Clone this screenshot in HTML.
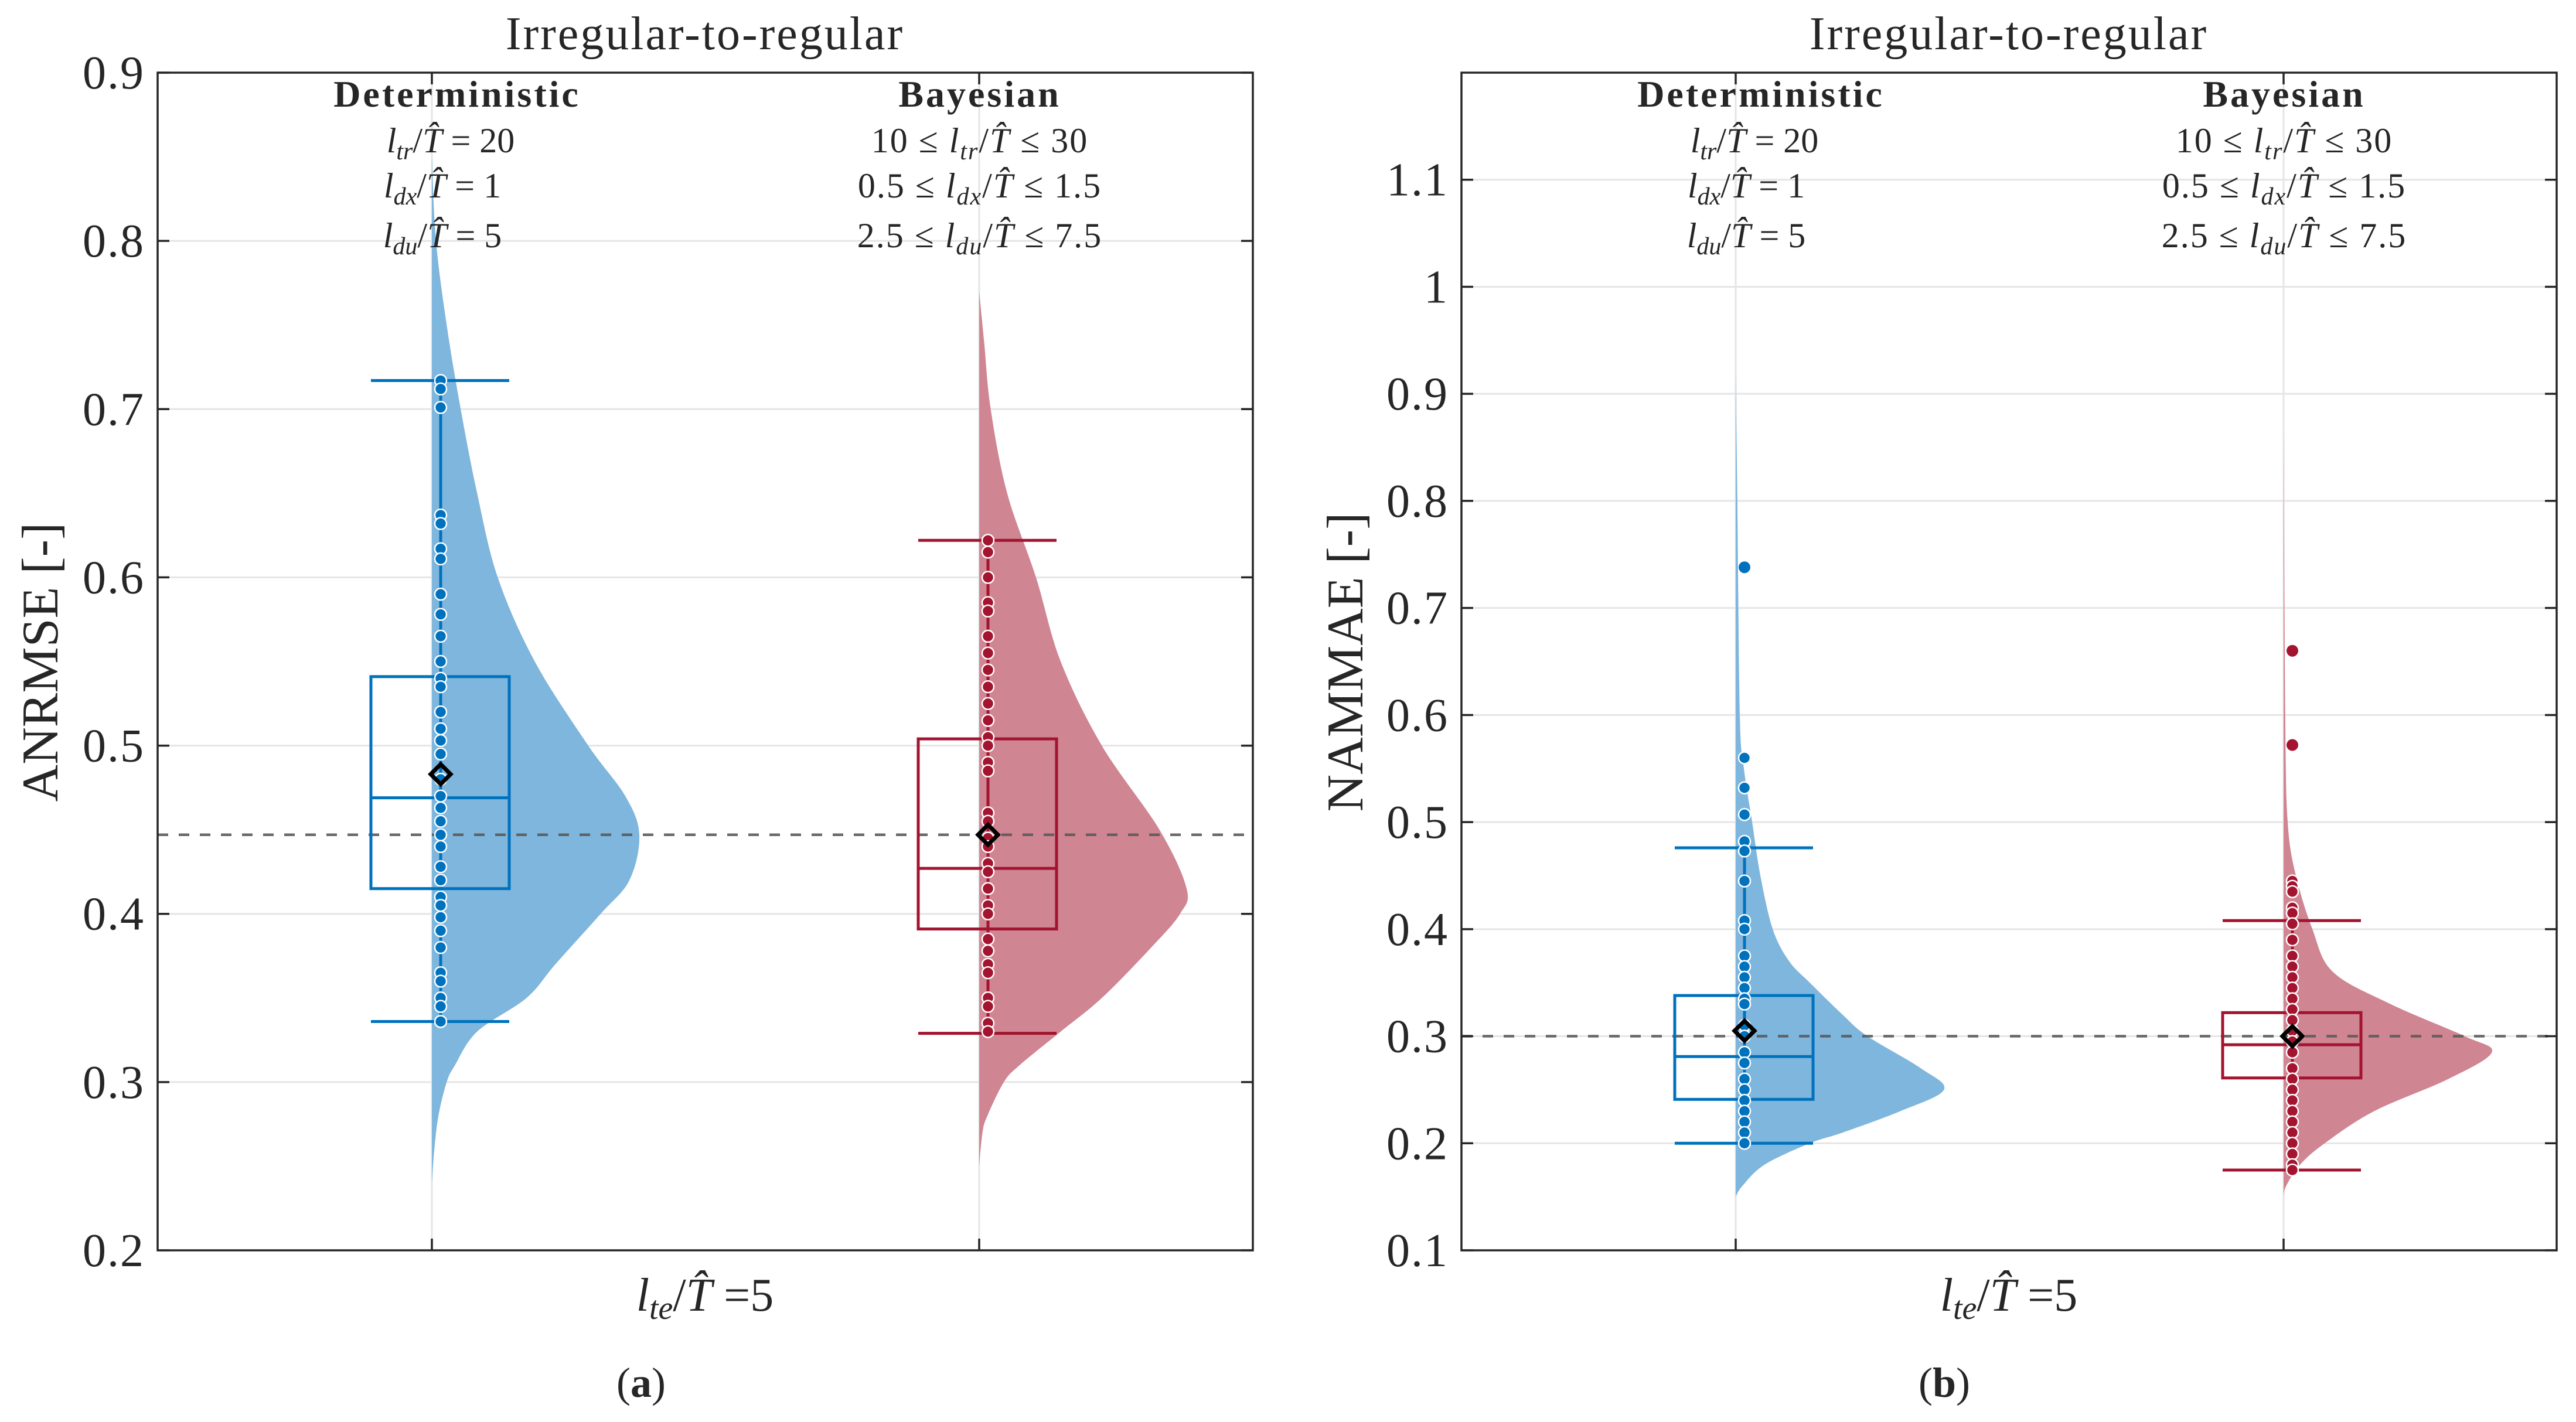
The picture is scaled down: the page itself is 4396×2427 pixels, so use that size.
<!DOCTYPE html>
<html><head><meta charset="utf-8">
<style>
html,body{margin:0;padding:0;background:#fff;}
svg{display:block;}
text{font-family:"Liberation Serif","DejaVu Serif",serif;fill:#262626;}
</style></head>
<body>
<svg id="fig" width="4396" height="2427" viewBox="0 0 4396 2427" xmlns="http://www.w3.org/2000/svg">
<g id="pa"></g>
<g id="pb"></g>
</svg>
<script>
// ---------- data: panel (a) ANRMSE ----------
const aTicks = [0.2,0.3,0.4,0.5,0.6,0.7,0.8,0.9];
const aDetStats = [0.336,0.415,0.469,0.541,0.717]; // min q1 med q3 max
const aBayStats = [0.329,0.391,0.427,0.504,0.622];
const aDetMean = 0.483;
const aBayMean = 0.447;
const aRef = 0.447;
const aDetPts = [0.717,0.712,0.701,0.637,0.632,0.617,0.611,0.590,0.578,0.565,0.55,0.54,0.535,0.52,0.51,0.503,0.495,0.48,0.47,0.463,0.455,0.447,0.44,0.428,0.42,0.41,0.405,0.398,0.39,0.38,0.365,0.36,0.35,0.345,0.336];
const aBayPts = [0.622,0.615,0.60,0.585,0.58,0.565,0.555,0.545,0.535,0.525,0.515,0.505,0.5,0.49,0.485,0.46,0.455,0.445,0.44,0.43,0.425,0.415,0.405,0.4,0.385,0.378,0.37,0.365,0.35,0.345,0.335,0.33];
const aDetViolinY = [0.85,0.80,0.75,0.70,0.65,0.60,0.55,0.50,0.47,0.447,0.42,0.40,0.37,0.35,0.33,0.31,0.30,0.28,0.26,0.24];
const aDetViolinW = [0,5,18,35,55,80,125,190,235,252,240,205,150,115,55,28,18,8,3,0];
const aBayViolinY = [0.77,0.74,0.70,0.65,0.60,0.55,0.50,0.45,0.415,0.40,0.38,0.35,0.33,0.31,0.30,0.28,0.27,0.25];
const aBayViolinW = [0,6,14,34,69,99,149,219,252,244,209,149,99,49,30,10,4,0];
// ---------- data: panel (b) NAMMAE ----------
const bTicks = [0.1,0.2,0.3,0.4,0.5,0.6,0.7,0.8,0.9,1,1.1];
const bDetStats = [0.200,0.241,0.281,0.338,0.476];
const bBayStats = [0.175,0.261,0.292,0.322,0.408];
const bDetMean = 0.305;
const bBayMean = 0.300;
const bRef = 0.300;
const bDetPts = [0.56,0.532,0.507,0.482,0.473,0.445,0.408,0.4,0.375,0.365,0.355,0.345,0.335,0.33,0.31,0.3,0.285,0.275,0.26,0.25,0.24,0.23,0.22,0.21,0.2];
const bDetOut = [0.738];
const bBayPts = [0.445,0.44,0.435,0.42,0.415,0.405,0.39,0.375,0.365,0.355,0.345,0.335,0.325,0.315,0.305,0.295,0.285,0.27,0.26,0.25,0.24,0.23,0.22,0.21,0.2,0.19,0.18,0.175];
const bBayOut = [0.66,0.572];
const bDetViolinY = [0.92,0.80,0.60,0.55,0.50,0.45,0.40,0.37,0.35,0.32,0.30,0.27,0.25,0.23,0.21,0.20,0.18,0.16,0.15];
const bDetViolinW = [0,2,5,10,20,30,45,65,90,130,160,225,253,200,130,90,35,8,0];
const bBayViolinY = [0.87,0.60,0.50,0.45,0.40,0.36,0.33,0.30,0.285,0.26,0.23,0.20,0.18,0.16,0.15];
const bBayViolinW = [0,2,5,15,35,60,130,220,253,200,110,50,20,3,0];

const NS = "http://www.w3.org/2000/svg";
const BLUE = "#0072BD", BLUEF = "#7FB6DD", RED = "#A2142F", REDF = "#D08593";
function mk(parent, tag, attrs){
  const e = document.createElementNS(NS, tag);
  for (const k in attrs) e.setAttribute(k, attrs[k]);
  parent.appendChild(e);
  return e;
}
function smoothPath(pts){
  let d = "M"+pts[0][0]+","+pts[0][1];
  for (let i=0;i<pts.length-1;i++){
    const p0=pts[Math.max(0,i-1)], p1=pts[i], p2=pts[i+1], p3=pts[Math.min(pts.length-1,i+2)];
    const c1=[p1[0]+(p2[0]-p0[0])/6, p1[1]+(p2[1]-p0[1])/6];
    const c2=[p2[0]-(p3[0]-p1[0])/6, p2[1]-(p3[1]-p1[1])/6];
    d += " C"+c1[0]+","+c1[1]+" "+c2[0]+","+c2[1]+" "+p2[0]+","+p2[1];
  }
  return d;
}

function panel(g, cfg){
  const L=cfg.L, R=cfg.R, T=124, B=2134;
  const y = v => B - (v - cfg.ymin)/(cfg.ymax-cfg.ymin)*(B-T);
  const wScale = 354/252;
  cfg.ticks.forEach(t=>{
    const gl = mk(g,"line",{x1:L,x2:R,y1:y(t),y2:y(t),stroke:"#e5e5e5","stroke-width":3});
    
    
  });
  [cfg.xd,cfg.xb].forEach(x=>{
    const vl = mk(g,"line",{x1:x,x2:x,y1:T,y2:B,stroke:"#e5e5e5","stroke-width":3});
    
    
  });
  function violin(x, ys, ws, fill, name){
    const pts = ys.map((v,i)=>[x+ws[i]*wScale, y(v)]);
    let d = smoothPath(pts) + " L"+x+","+y(ys[ys.length-1])+" L"+x+","+y(ys[0])+" Z";
    const p = mk(g,"path",{d:d,fill:fill,stroke:"none"});
    
    
  }
  violin(cfg.xd, cfg.dvy, cfg.dvw, BLUEF, 'violin-deterministic');
  violin(cfg.xb, cfg.bvy, cfg.bvw, REDF, 'violin-bayesian');
  const rl = mk(g,"line",{x1:L,x2:R,y1:y(cfg.ref),y2:y(cfg.ref),stroke:"#5a5a5a","stroke-width":4.5,"stroke-dasharray":"18 18",opacity:0.9});
  
  
  function box(x, st, col, name){
    const bl=x-104, br=x+132, px=x+15;
    const bg = mk(g,"g",{stroke:col,"stroke-width":5,fill:"none"});
    
    
    mk(bg,"line",{x1:px,x2:px,y1:y(st[4]),y2:y(st[0])});
    mk(bg,"rect",{x:bl,y:y(st[3]),width:br-bl,height:y(st[1])-y(st[3])});
    mk(bg,"line",{x1:bl,x2:br,y1:y(st[2]),y2:y(st[2])});
    mk(bg,"line",{x1:bl,x2:br,y1:y(st[4]),y2:y(st[4])});
    mk(bg,"line",{x1:bl,x2:br,y1:y(st[0]),y2:y(st[0])});
  }
  box(cfg.xd, cfg.dst, BLUE, 'box-deterministic');
  box(cfg.xb, cfg.bst, RED, 'box-bayesian');
  function points(x, vals, col, edge, name){
    vals.forEach(v=>{
      const c = mk(g,"circle",{cx:x+15,cy:y(v),r:10,fill:col,stroke:edge?"#fff":"none","stroke-width":2.5});
      
      
    });
  }
  points(cfg.xd, cfg.dpts, BLUE, true, 'point-deterministic');
  points(cfg.xb, cfg.bpts, RED, true, 'point-bayesian');
  points(cfg.xd, cfg.dout, BLUE, false, 'outlier-deterministic');
  points(cfg.xb, cfg.bout, RED, false, 'outlier-bayesian');
  function mean(x, v, name){
    const cx=x+15, cy=y(v), s=17;
    const m = mk(g,"path",{d:`M${cx},${cy-s} L${cx+s},${cy} L${cx},${cy+s} L${cx-s},${cy} Z`,fill:"none",stroke:"#000","stroke-width":7});
    
    
  }
  mean(cfg.xd, cfg.dmean, 'mean-deterministic');
  mean(cfg.xb, cfg.bmean, 'mean-bayesian');
  const ax = mk(g,"rect",{x:L,y:T,width:R-L,height:B-T,fill:"none",stroke:"#262626","stroke-width":3.5});
  
  
  cfg.ticks.forEach(t=>{
    mk(g,"line",{x1:L,x2:L+20,y1:y(t),y2:y(t),stroke:"#262626","stroke-width":3.5});
    mk(g,"line",{x1:R,x2:R-20,y1:y(t),y2:y(t),stroke:"#262626","stroke-width":3.5});
    const tl = mk(g,"text",{x:L-22,y:y(t)+27,"text-anchor":"end","font-size":80,"letter-spacing":2});
    tl.textContent = String(t);
    
    
  });
  [cfg.xd,cfg.xb].forEach(x=>{
    mk(g,"line",{x1:x,x2:x,y1:B,y2:B-20,stroke:"#262626","stroke-width":3.5});
    mk(g,"line",{x1:x,x2:x,y1:T,y2:T+20,stroke:"#262626","stroke-width":3.5});
  });
}

panel(document.getElementById('pa'), {L:269,R:2138,xd:737,xb:1671,ymin:0.2,ymax:0.9,ticks:aTicks,
  dst:aDetStats,bst:aBayStats,dmean:aDetMean,bmean:aBayMean,ref:aRef,dpts:aDetPts,bpts:aBayPts,dout:[],bout:[],
  dvy:aDetViolinY,dvw:aDetViolinW,bvy:aBayViolinY,bvw:aBayViolinW});
panel(document.getElementById('pb'), {L:2494,R:4363,xd:2962,xb:3897,ymin:0.1,ymax:1.2,ticks:bTicks,
  dst:bDetStats,bst:bBayStats,dmean:bDetMean,bmean:bBayMean,ref:bRef,dpts:bDetPts,bpts:bBayPts,dout:bDetOut,bout:bBayOut,
  dvy:bDetViolinY,dvw:bDetViolinW,bvy:bBayViolinY,bvw:bBayViolinW});
</script>
<svg style="position:absolute;left:0;top:0" width="4396" height="2427" viewBox="0 0 4396 2427" xmlns="http://www.w3.org/2000/svg">
<g font-family="Liberation Serif, DejaVu Serif, serif" fill="#262626">
  <!-- panel a -->
  <text x="1203" y="84" font-size="80" letter-spacing="3" text-anchor="middle">Irregular-to-regular</text>
  <text x="780" y="182" font-size="64" letter-spacing="4" font-weight="bold" text-anchor="middle">Deterministic</text>
  <text x="769" y="260" font-size="60" text-anchor="middle"><tspan font-style="italic">l</tspan><tspan font-style="italic" font-size="42" dy="12">tr</tspan><tspan dy="-12">/</tspan><tspan font-style="italic">T̂</tspan>  =  20</text>
  <text x="755" y="337" font-size="60" text-anchor="middle"><tspan font-style="italic">l</tspan><tspan font-style="italic" font-size="42" dy="12">dx</tspan><tspan dy="-12">/</tspan><tspan font-style="italic">T̂</tspan>  =  1</text>
  <text x="755" y="422" font-size="60" text-anchor="middle"><tspan font-style="italic">l</tspan><tspan font-style="italic" font-size="42" dy="12">du</tspan><tspan dy="-12">/</tspan><tspan font-style="italic">T̂</tspan>  =  5</text>
  <text x="1672" y="182" font-size="64" letter-spacing="4" font-weight="bold" text-anchor="middle">Bayesian</text>
  <text x="1672" y="260" font-size="60" letter-spacing="2" text-anchor="middle">10 ≤ <tspan font-style="italic">l</tspan><tspan font-style="italic" font-size="42" dy="12">tr</tspan><tspan dy="-12">/</tspan><tspan font-style="italic">T̂</tspan> ≤ 30</text>
  <text x="1672" y="337" font-size="60" letter-spacing="2" text-anchor="middle">0.5 ≤ <tspan font-style="italic">l</tspan><tspan font-style="italic" font-size="42" dy="12">dx</tspan><tspan dy="-12">/</tspan><tspan font-style="italic">T̂</tspan> ≤ 1.5</text>
  <text x="1672" y="422" font-size="60" letter-spacing="2" text-anchor="middle">2.5 ≤ <tspan font-style="italic">l</tspan><tspan font-style="italic" font-size="42" dy="12">du</tspan><tspan dy="-12">/</tspan><tspan font-style="italic">T̂</tspan> ≤ 7.5</text>
  <text transform="translate(98,1130) rotate(-90)" font-size="88" text-anchor="middle">ANRMSE [-]</text>
  <text x="1203" y="2237" font-size="80" text-anchor="middle"><tspan font-style="italic">l</tspan><tspan font-style="italic" font-size="56" dy="14">te</tspan><tspan dy="-14">/</tspan><tspan font-style="italic">T̂</tspan>  =5</text>
  <text x="1094" y="2384" font-size="72" text-anchor="middle">(<tspan font-weight="bold">a</tspan>)</text>
  <!-- panel b -->
  <text x="3428" y="84" font-size="80" letter-spacing="3" text-anchor="middle">Irregular-to-regular</text>
  <text x="3005" y="182" font-size="64" letter-spacing="4" font-weight="bold" text-anchor="middle">Deterministic</text>
  <text x="2994" y="260" font-size="60" text-anchor="middle"><tspan font-style="italic">l</tspan><tspan font-style="italic" font-size="42" dy="12">tr</tspan><tspan dy="-12">/</tspan><tspan font-style="italic">T̂</tspan>  =  20</text>
  <text x="2980" y="337" font-size="60" text-anchor="middle"><tspan font-style="italic">l</tspan><tspan font-style="italic" font-size="42" dy="12">dx</tspan><tspan dy="-12">/</tspan><tspan font-style="italic">T̂</tspan>  =  1</text>
  <text x="2980" y="422" font-size="60" text-anchor="middle"><tspan font-style="italic">l</tspan><tspan font-style="italic" font-size="42" dy="12">du</tspan><tspan dy="-12">/</tspan><tspan font-style="italic">T̂</tspan>  =  5</text>
  <text x="3898" y="182" font-size="64" letter-spacing="4" font-weight="bold" text-anchor="middle">Bayesian</text>
  <text x="3898" y="260" font-size="60" letter-spacing="2" text-anchor="middle">10 ≤ <tspan font-style="italic">l</tspan><tspan font-style="italic" font-size="42" dy="12">tr</tspan><tspan dy="-12">/</tspan><tspan font-style="italic">T̂</tspan> ≤ 30</text>
  <text x="3898" y="337" font-size="60" letter-spacing="2" text-anchor="middle">0.5 ≤ <tspan font-style="italic">l</tspan><tspan font-style="italic" font-size="42" dy="12">dx</tspan><tspan dy="-12">/</tspan><tspan font-style="italic">T̂</tspan> ≤ 1.5</text>
  <text x="3898" y="422" font-size="60" letter-spacing="2" text-anchor="middle">2.5 ≤ <tspan font-style="italic">l</tspan><tspan font-style="italic" font-size="42" dy="12">du</tspan><tspan dy="-12">/</tspan><tspan font-style="italic">T̂</tspan> ≤ 7.5</text>
  <text transform="translate(2325,1130) rotate(-90)" font-size="88" text-anchor="middle">NAMMAE [-]</text>
  <text x="3428" y="2237" font-size="80" text-anchor="middle"><tspan font-style="italic">l</tspan><tspan font-style="italic" font-size="56" dy="14">te</tspan><tspan dy="-14">/</tspan><tspan font-style="italic">T̂</tspan>  =5</text>
  <text x="3318" y="2384" font-size="72" text-anchor="middle">(<tspan font-weight="bold">b</tspan>)</text>
</g>
</svg>
</body></html>
